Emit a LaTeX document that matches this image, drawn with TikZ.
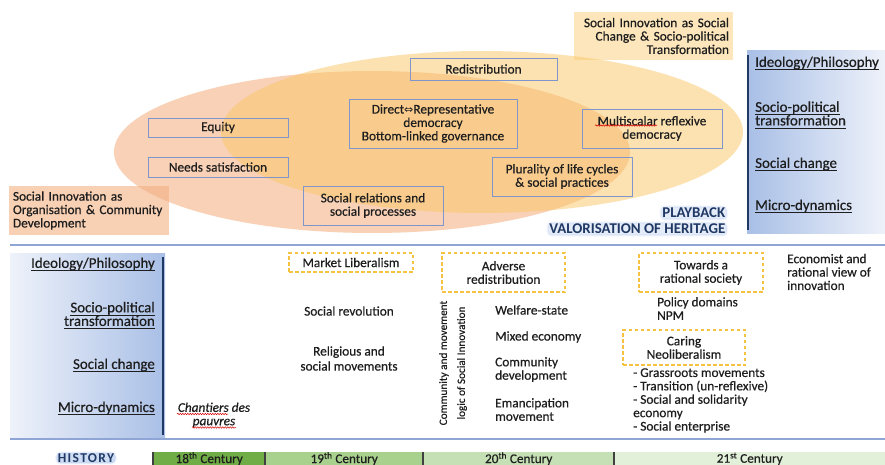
\documentclass[tikz,border=0pt]{standalone}
\usepackage{fontspec}
\setmainfont{Carlito}[UprightFeatures={FakeBold=0.5},ItalicFeatures={FakeBold=0.5}]
\newfontfamily\symfont{DejaVu Sans}
\usetikzlibrary{decorations.pathmorphing}
\definecolor{ellA}{HTML}{F4B183}
\definecolor{ellB}{HTML}{FBC86A}
\definecolor{boxblue}{HTML}{7F96CC}
\definecolor{panelblue}{HTML}{A9BFE6}
\definecolor{panelwhite}{HTML}{EEF2FA}
\definecolor{navy}{HTML}{1F3864}
\definecolor{halo}{HTML}{A9C2EC}
\definecolor{divider}{HTML}{8FA5D6}
\definecolor{gold}{HTML}{F5C242}
\definecolor{gA}{HTML}{70AD47}
\definecolor{gB}{HTML}{A9D18E}
\definecolor{gC}{HTML}{C5E0B4}
\definecolor{gD}{HTML}{E2F0D9}
\definecolor{ink}{HTML}{1E1E1E}
\newcommand\ul[1]{\setbox0\hbox{#1}\leavevmode\rlap{\smash{\rule[-3.4pt]{\wd0}{0.9pt}}}\box0}
\begin{document}
\begin{tikzpicture}[x=1pt,y=-1pt,
  txt/.style={inner sep=0pt, font=\fontsize{13.3}{13.4}\selectfont, text=ink},
  lbl/.style={txt, font=\fontsize{14.9}{13.6}\selectfont},
  bx/.style={txt, draw=boxblue, line width=0.9pt, align=center},
  dbx/.style={txt, draw=gold, line width=1.1pt, dash pattern=on 3.5pt off 2.5pt, align=center},
  panel/.style={inner sep=0pt, anchor=north west},
  seg/.style={txt, minimum height=13pt, anchor=north west, font=\fontsize{13.2}{13}\selectfont},
  sepline/.style={draw=black!75, line width=1.2pt},
  wavy/.style={draw=red!85!black, line width=0.5pt, decorate, decoration={snake, segment length=2.5pt, amplitude=0.7pt}},
  glow/.style={inner xsep=1.5pt, inner ysep=1.5pt, rounded corners=4pt, text=navy,
    fill=halo, fill opacity=0.3, draw=halo, draw opacity=0.15, line width=2.5pt, text opacity=1,
    font=\fontsize{14.9}{14}\selectfont\bfseries}]
\useasboundingbox (0,0) rectangle (885,465);
\clip (0,0) rectangle (885,465);
\fill[white] (0,0) rectangle (885,465);

% ---- top section: ellipses
\fill[ellA, fill opacity=0.58] (372,152) ellipse [x radius=258pt, y radius=81pt];
\fill[ellB, fill opacity=0.52] (482,132) ellipse [x radius=261pt, y radius=81pt];

\node[txt, fill=ellA, fill opacity=0.6, text opacity=1, minimum width=160pt, minimum height=49pt,
  text width=152pt, inner xsep=4pt, align=left] (orglabel) at (89,210.5)
  {Social Innovation as\\Organisation \& Community\\Development};
\node[txt, fill=ellB, fill opacity=0.45, text opacity=1, minimum width=159pt, minimum height=48pt,
  text width=151pt, inner xsep=4pt, align=right] (sclabel) at (653.5,36)
  {Social Innovation as Social\\Change \& Socio-political\\Transformation};

\node[bx, minimum width=140pt, minimum height=19pt] (equity) at (218,127.5) {Equity};
\node[bx, minimum width=140pt, minimum height=20pt] (needs) at (218,167) {Needs satisfaction};
\node[bx, minimum width=140pt, minimum height=39pt] (socrel) at (373,205.5) {Social relations and\\social processes};
\node[bx, minimum width=168pt, minimum height=49pt] (direct) at (433,123.5)
  {Direct{\symfont\fontsize{11}{11}\selectfont ⇔}Representative\\democracy\\Bottom-linked governance};
\node[bx, minimum width=147pt, minimum height=22pt] (redis) at (483.5,69) {Redistribution};
\node[bx, minimum width=140pt, minimum height=39pt] (multi) at (652,128.5) {Multiscalar reflexive\\democracy};
\node[bx, minimum width=140pt, minimum height=39pt] (plural) at (562,176.5) {Plurality of life cycles\\\& social practices};
\draw[wavy] (595,125.5) -- (657,125.5);

\node[glow, anchor=east] (playback) at (728,213) {PLAYBACK};
\node[glow, anchor=east] (valor) at (728,229) {VALORISATION OF HERITAGE};

% right panel
\node[panel, left color=panelblue, right color=panelwhite, minimum width=138pt, minimum height=183pt] (rpanel) at (747,50) {};
\draw[navy, line width=1.3pt] (748,55) -- (748,230);
\node[lbl, anchor=west] (rideo) at (755,63) {\ul{Ideology/Philosophy}};
\node[lbl, anchor=west, align=left] (rsocio) at (755,113.5) {\ul{Socio-political}\\\ul{transformation}};
\node[lbl, anchor=west] (rsoc) at (755,164) {\ul{Social change}};
\node[lbl, anchor=west] (rmicro) at (755,206) {\ul{Micro-dynamics}};

% dividers
\draw[divider, line width=1.5pt] (10,245) -- (885,245);
\draw[divider, line width=1.5pt] (10,439) -- (885,439);

% ---- bottom section
\node[panel, left color=panelwhite, right color=panelblue, minimum width=155pt, minimum height=184pt] (lpanel) at (10,253) {};
\draw[navy, line width=1.3pt] (163,257) -- (163,435);
\node[lbl, anchor=east] (lideo) at (155,264) {\ul{Ideology/Philosophy}};
\node[lbl, anchor=east, align=right] (lsocio) at (155,314) {\ul{Socio-political}\\\ul{transformation}};
\node[lbl, anchor=east] (lsoc) at (155,365) {\ul{Social change}};
\node[lbl, anchor=east] (lmicro) at (155,408) {\ul{Micro-dynamics}};

\node[txt, align=center, font=\fontsize{13.3}{13.4}\selectfont\itshape] (chant) at (214,415) {Chantiers des\\pauvres};
\draw[wavy] (177,414) -- (228,414);
\draw[wavy] (192,427.5) -- (236,427.5);

\node[dbx, minimum width=124pt, minimum height=19pt] (mlib) at (351,262.5) {Market Liberalism};
\node[txt] (socrev) at (349,311) {Social revolution};
\node[txt, align=center, font=\fontsize{13.3}{15}\selectfont] (relig) at (349,358.5) {Religious and\\social movements};

\node[txt, rotate=90, align=center, font=\fontsize{11.2}{18}\selectfont] (logic) at (453,363)
  {Community and movement\\logic of Social Innovation};

\node[dbx, minimum width=123pt, minimum height=39pt] (adverse) at (503.5,272.5) {Adverse\\redistribution};
\node[txt, anchor=west] (welfare) at (495,310) {Welfare-state};
\node[txt, anchor=west] (mixed) at (495,337) {Mixed economy};
\node[txt, anchor=west, align=left] (commdev) at (495,369.5) {Community\\development};
\node[txt, anchor=west, align=left] (emanc) at (495,409.5) {Emancipation\\movement};

\node[dbx, minimum width=124pt, minimum height=39pt] (towards) at (701,272.5) {Towards a\\rational society};
\node[txt, anchor=west, align=left] (econ) at (787,272) {Economist and\\rational view of\\innovation};
\node[txt, anchor=west, align=left] (policy) at (657,308.5) {Policy domains\\NPM};
\node[dbx, minimum width=122pt, minimum height=35pt] (caring) at (684,347.5) {Caring\\Neoliberalism};
\node[txt, anchor=west, align=left] (list) at (633,400.5)
  {- Grassroots movements\\- Transition (un-reflexive)\\- Social and solidarity\\economy\\- Social enterprise};

% ---- history bar
\node[glow, fill opacity=0.55, inner ysep=0.8pt, font=\fontsize{13.5}{13.5}\selectfont\bfseries\addfontfeature{LetterSpace=10}] (history) at (86,458) {HISTORY};
\node[seg, fill=gA, minimum width=112pt] (c18) at (153,452) {18\textsuperscript{th} Century};
\node[seg, fill=gB, minimum width=158pt] (c19) at (265,452) {19\textsuperscript{th} Century};
\node[seg, fill=gC, minimum width=191pt] (c20) at (423,452) {20\textsuperscript{th} Century};
\node[seg, fill=gD, minimum width=271pt] (c21) at (614,452) {21\textsuperscript{st} Century};
\draw[sepline] (c18.north west) -- (c18.south west);
\draw[sepline] (c19.north west) -- (c19.south west);
\draw[sepline] (c20.north west) -- (c20.south west);
\draw[sepline] (c21.north west) -- (c21.south west);
\end{tikzpicture}
\end{document}
